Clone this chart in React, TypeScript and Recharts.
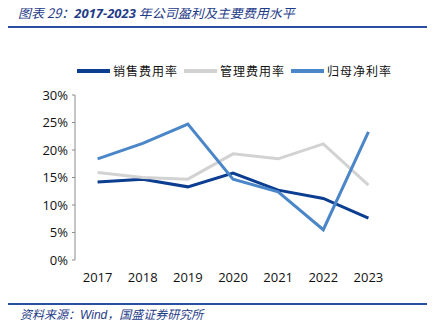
import { LineChart, Line, XAxis, YAxis } from "recharts";

const years = ["2017", "2018", "2019", "2020", "2021", "2022", "2023"];
const salesRate = [14.2, 14.7, 13.3, 15.8, 12.7, 11.2, 7.6];
const adminRate = [15.9, 15.0, 14.7, 19.3, 18.4, 21.1, 13.6];
const netRate = [18.4, 21.2, 24.7, 14.7, 12.4, 5.5, 23.3];
const yTicks = [0, 5, 10, 15, 20, 25, 30];
const bandTicks = [0, 1, 2, 3, 4, 5, 6, 7];
const labelTicks = years.map((_, i) => i + 0.5);

const series = [
  { key: "sales", name: "销售费用率", color: "#0B3D91", values: salesRate },
  { key: "admin", name: "管理费用率", color: "#D2D2D2", values: adminRate },
  { key: "net", name: "归母净利率", color: "#4A86C8", values: netRate },
];

const data = years.map((year, i) => {
  const row: Record<string, string | number> = { year, idx: i + 0.5 };
  series.forEach((s) => {
    row[s.key] = s.values[i];
  });
  return row;
});

const BLUE_TEXT = "#1F3C88";
const AXIS = "#8C8C8C";
const CJK = '"Noto Sans CJK SC", "Noto Sans", sans-serif';

export default function App() {
  return (
    <div
      style={{
        position: "relative",
        width: 435,
        height: 333,
        margin: -8,
        background: "#fff",
        fontFamily: CJK,
        overflow: "hidden",
      }}
    >
      {/* title */}
      <div
        style={{
          position: "absolute",
          left: 18,
          top: 3,
          fontSize: 13,
          fontStyle: "italic",
          color: BLUE_TEXT,
          whiteSpace: "nowrap",
        }}
      >
        图表 29：<b style={{ fontFamily: "Open Sans" }}>2017-2023</b> 年公司盈利及主要费用水平
      </div>
      <div
        style={{
          position: "absolute",
          left: 8,
          top: 26,
          width: 423,
          height: 2,
          background: "#2B4FA0",
        }}
      />

      {/* legend */}
      <div
        style={{
          position: "absolute",
          left: 77,
          top: 62,
          display: "flex",
          alignItems: "center",
          fontSize: 12,
          letterSpacing: 1,
          color: "#111",
          whiteSpace: "nowrap",
        }}
      >
        {series.map((s) => (
          <div
            key={s.key}
            style={{ display: "flex", alignItems: "center", marginRight: 6 }}
          >
            <span
              style={{
                display: "inline-block",
                width: 33,
                height: 4,
                background: s.color,
                marginRight: 3,
              }}
            />
            <span>{s.name}</span>
          </div>
        ))}
      </div>

      <div style={{ position: "absolute", left: 0, top: 0 }}>
        <LineChart
          width={435}
          height={300}
          data={data}
          margin={{ top: 95, right: 44, bottom: 10, left: 0 }}
        >
          <XAxis
            xAxisId="band"
            dataKey="idx"
            type="number"
            domain={[0, 7]}
            ticks={bandTicks}
            height={0}
            mirror
            tick={false}
            tickSize={5}
            axisLine={{ stroke: AXIS }}
            tickLine={{ stroke: AXIS }}
          />
          <XAxis
            xAxisId="label"
            dataKey="idx"
            type="number"
            domain={[0, 7]}
            ticks={labelTicks}
            tickFormatter={(v) => years[Math.floor(v)]}
            height={30}
            axisLine={false}
            tickLine={false}
            tickSize={6}
            tickMargin={7}
            tick={{ fontSize: 13, fill: "#111", fontFamily: "Open Sans" }}
          />
          <YAxis
            width={75}
            domain={[0, 30]}
            ticks={yTicks}
            tickFormatter={(v) => `${v}%`}
            tickSize={3}
            tickMargin={4}
            axisLine={{ stroke: AXIS }}
            tickLine={{ stroke: AXIS }}
            tick={{ fontSize: 13, fill: "#111", fontFamily: "Open Sans" }}
          />
          {series.map((s) => (
            <Line
              key={s.key}
              xAxisId="band"
              dataKey={s.key}
              name={s.name}
              stroke={s.color}
              strokeWidth={3}
              dot={false}
              isAnimationActive={false}
            />
          ))}
        </LineChart>
      </div>

      {/* source */}
      <div
        style={{
          position: "absolute",
          left: 8,
          top: 303,
          width: 423,
          height: 2,
          background: "#2B4FA0",
        }}
      />
      <div
        style={{
          position: "absolute",
          left: 20,
          top: 305,
          fontSize: 12,
          fontStyle: "italic",
          color: BLUE_TEXT,
          whiteSpace: "nowrap",
        }}
      >
        资料来源：<span style={{ fontFamily: "Liberation Sans" }}>Wind</span>，国盛证券研究所
      </div>
    </div>
  );
}
